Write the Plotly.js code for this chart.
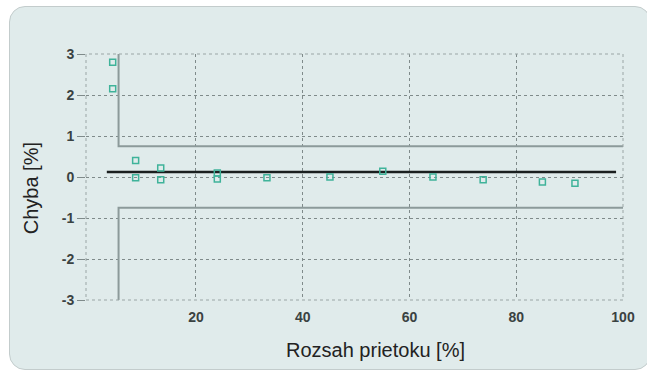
<!DOCTYPE html>
<html><head><meta charset="utf-8">
<script src="https://cdn.plot.ly/plotly-3.0.1.min.js"></script>
<style>
html,body{margin:0;padding:0;background:#ffffff;width:647px;height:371px;overflow:hidden}
#card{position:absolute;left:9px;top:6px;width:640px;height:362px;border:1px solid #c3cccc;border-radius:16px;background:#e0ebeb}
#chart{position:absolute;left:0;top:0;width:647px;height:371px}
</style></head>
<body><div id="card"></div><div id="chart"></div>
<script>
// Measured points: flow range [%] and error [%]
const flowX = [4.4, 4.4, 8.7, 8.7, 13.4, 13.4, 24, 24, 33.3, 45.1, 55, 64.4, 73.8, 84.9, 91];
const errorY = [2.8, 2.15, 0.4, -0.02, 0.22, -0.07, 0.1, -0.05, -0.02, 0, 0.14, 0, -0.07, -0.12, -0.15];
// Mean error line
const meanX = [3.3, 98.7];
const meanY = [0.12, 0.12];
// Tolerance limits
const upperLimX = [5.5, 5.5, 100];
const upperLimY = [3, 0.75, 0.75];
const lowerLimX = [5.5, 5.5, 100];
const lowerLimY = [-3, -0.75, -0.75];
const xTicks = [20, 40, 60, 80, 100];
const yTicks = [-3, -2, -1, 0, 1, 2, 3];

const traces = [
  {x: upperLimX, y: upperLimY, mode: 'lines', line: {color: '#8c9a9a', width: 2}, hoverinfo: 'skip'},
  {x: lowerLimX, y: lowerLimY, mode: 'lines', line: {color: '#8c9a9a', width: 2}, hoverinfo: 'skip'},
  {x: meanX, y: meanY, mode: 'lines', line: {color: '#1a1f1f', width: 2.5}},
  {x: flowX, y: errorY, mode: 'markers', marker: {symbol: 'square-open', size: 6, color: '#3fb39a', line: {width: 1.5, color: '#3fb39a'}}}
];

const tickFont = {family: 'Liberation Sans', size: 14, color: '#3a4242', weight: 'bold'};
const layout = {
  width: 647, height: 371,
  paper_bgcolor: 'rgba(0,0,0,0)', plot_bgcolor: 'rgba(0,0,0,0)',
  margin: {l: 86, r: 24, t: 54, b: 71},
  showlegend: false,
  xaxis: {range: [-0.6, 100], tickvals: xTicks, ticktext: xTicks.map(String),
    showgrid: true, gridcolor: '#7f8a8a', griddash: 'dot', gridwidth: 1,
    zeroline: false, showline: false, ticks: 'outside', ticklen: 4, tickcolor: 'rgba(0,0,0,0)',
    tickfont: tickFont},
  yaxis: {range: [-3, 3], tickvals: yTicks, ticktext: yTicks.map(String),
    showgrid: true, gridcolor: '#7f8a8a', griddash: 'dot', gridwidth: 1,
    zeroline: false, showline: false, ticks: 'outside', ticklen: 8, tickcolor: '#7f8a8a',
    tickfont: tickFont},
  shapes: [
    {type: 'rect', xref: 'paper', yref: 'paper', x0: 0, x1: 1, y0: 0, y1: 1,
     line: {color: '#9aa5a5', width: 1, dash: 'dot'}}
  ],
  annotations: [
    {text: 'Rozsah prietoku [%]', xref: 'paper', yref: 'paper', x: 0.54, y: -0.203,
     xanchor: 'center', yanchor: 'middle', showarrow: false,
     font: {family: 'Liberation Sans', size: 20, color: '#222'}},
    {text: 'Chyba [%]', xref: 'paper', yref: 'paper', x: -0.102, y: 0.455,
     xanchor: 'center', yanchor: 'middle', showarrow: false, textangle: -90,
     font: {family: 'Liberation Sans', size: 20, color: '#222'}}
  ]
};
Plotly.newPlot('chart', traces, layout, {displayModeBar: false, staticPlot: true});
</script></body></html>
